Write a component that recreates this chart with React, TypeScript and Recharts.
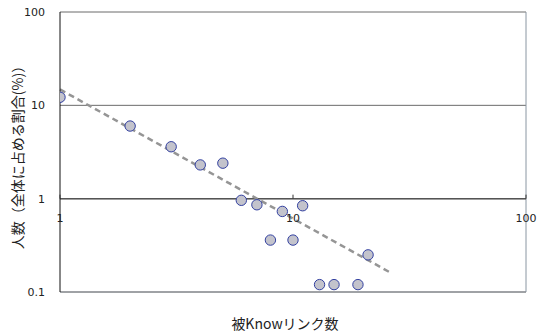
import React from 'react';
import { ScatterChart, Scatter, XAxis, YAxis, CartesianGrid, ReferenceLine, ReferenceDot, Label } from 'recharts';

const linkCounts = [1, 2, 3, 4, 5, 6, 7, 8, 9, 10, 11, 13, 15, 19, 21];
const sharePct = [12.2, 6.0, 3.6, 2.3, 2.4, 0.96, 0.86, 0.36, 0.73, 0.36, 0.84, 0.12, 0.12, 0.12, 0.25];
const trendX = [1, 26.6];
const trendY = [14.8, 0.158];
const xTicks = [1, 10, 100];
const yTicks = [0.1, 1, 10, 100];

const points = linkCounts.map((x, i) => ({ x, y: sharePct[i] }));
const trendSegment = trendX.map((x, i) => ({ x, y: trendY[i] }));

const tickFont = '"DejaVu Sans", "Liberation Sans", sans-serif';
const cjkFont = '"Noto Sans CJK JP", "Noto Sans", sans-serif';

const Marker = (props: any) => (
  <circle cx={props.cx} cy={props.cy} r={5.2} fill="#c3c3cc" stroke="#3240a0" strokeWidth={1} />
);

const XTickAtOne = (label: string) => (props: any) => (
  <g>
    <line x1={props.cx} y1={props.cy} x2={props.cx} y2={props.cy - 4} stroke="#333" strokeWidth={1} />
    <text x={props.cx} y={props.cy + 23} textAnchor="middle" fontSize={11} fontFamily={tickFont} fill="#222">
      {label}
    </text>
  </g>
);

export default function App() {
  return (
    <div style={{ position: 'absolute', left: 0, top: 0, background: '#fff' }}>
      <ScatterChart width={538} height={333} margin={{ top: 12, right: 12, left: 0, bottom: 0 }}>
        <CartesianGrid vertical={false} stroke="#6a6a6a" />
        <XAxis
          type="number"
          dataKey="x"
          scale="log"
          domain={[1, 100]}
          ticks={xTicks}
          tick={false}
          tickLine={false}
          axisLine={{ stroke: '#8a8f96' }}
          height={41}
          allowDataOverflow
        >
          <Label value="被Knowリンク数" position="insideBottom" offset={4} dx={-8} fontSize={14} fontFamily={cjkFont} fill="#222" />
        </XAxis>
        <YAxis
          type="number"
          dataKey="y"
          scale="log"
          domain={[0.1, 100]}
          ticks={yTicks}
          tickFormatter={(v: number) => String(v)}
          tickLine={false}
          tickMargin={9}
          tick={{ fontSize: 11, fontFamily: tickFont, fill: '#222' }}
          axisLine={{ stroke: '#111' }}
          width={60}
          allowDataOverflow
        >
          <Label value="人数（全体に占める割合(%)）" angle={-90} position="insideLeft" offset={18} dy={2} fontSize={14} fontFamily={cjkFont} fill="#222" style={{ textAnchor: 'middle' }} />
        </YAxis>
        <ReferenceLine x={100} stroke="#8a96a2" />
        <ReferenceLine y={1} stroke="#555" strokeWidth={1.5} />
        <ReferenceLine
          segment={trendSegment}
          stroke="#959595"
          strokeWidth={2.5}
          strokeDasharray="6 4"
          ifOverflow="visible"
        />
        {xTicks.map((t) => (
          <ReferenceDot key={t} x={t} y={1} ifOverflow="visible" shape={XTickAtOne(String(t))} />
        ))}
        <Scatter data={points} shape={Marker} isAnimationActive={false} />
      </ScatterChart>
    </div>
  );
}
